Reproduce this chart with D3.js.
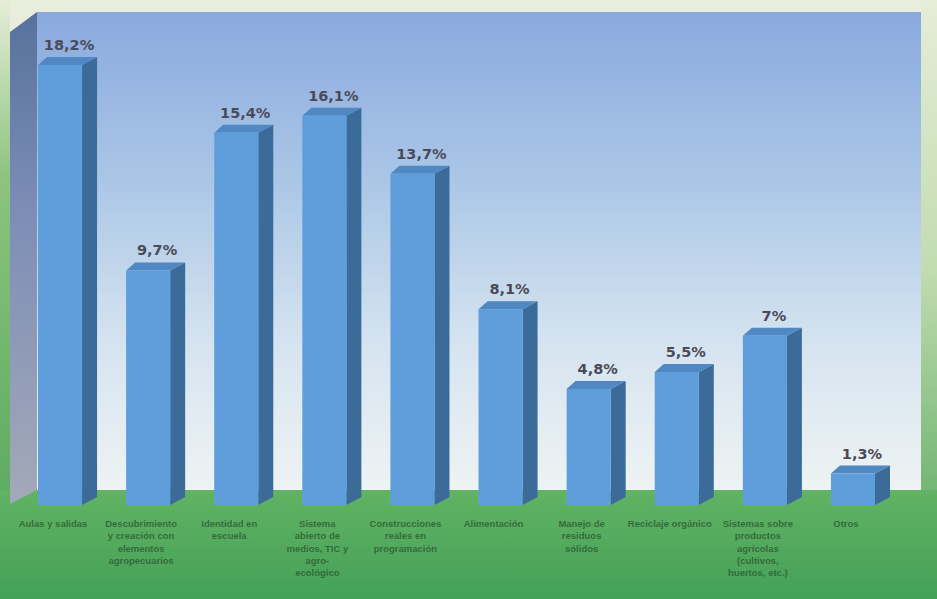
<!DOCTYPE html>
<html>
<head>
<meta charset="utf-8">
<script src="https://cdn.jsdelivr.net/npm/d3@7"></script>
<style>
  html, body { margin: 0; padding: 0; background: #e8eedb; }
  svg { display: block; }
</style>
</head>
<body>
<svg id="chart" width="937" height="599"></svg>
<script>
const categories = [
  "Aulas y salidas",
  "Descubrimiento|y creación con|elementos|agropecuarios",
  "Identidad en|escuela",
  "Sistema|abierto de|medios, TIC y|agro-|ecológico",
  "Construcciones|reales en|programación",
  "Alimentación",
  "Manejo de|residuos|sólidos",
  "Reciclaje orgánico",
  "Sistemas sobre|productos|agrícolas|(cultivos,|huertos, etc.)",
  "Otros"
];
const values = [18.2, 9.7, 15.4, 16.1, 13.7, 8.1, 4.8, 5.5, 7, 1.3];
const valueLabels = ["18,2%", "9,7%", "15,4%", "16,1%", "13,7%", "8,1%", "4,8%", "5,5%", "7%", "1,3%"];

const W = 937, H = 599;
const svg = d3.select("#chart");
const defs = svg.append("defs");

const gWall = defs.append("linearGradient").attr("id", "wall").attr("x1", 0).attr("y1", 0).attr("x2", 0).attr("y2", 1);
gWall.append("stop").attr("offset", "0%").attr("stop-color", "#8aa9de");
gWall.append("stop").attr("offset", "35%").attr("stop-color", "#aac6e6");
gWall.append("stop").attr("offset", "70%").attr("stop-color", "#d6e4f0");
gWall.append("stop").attr("offset", "100%").attr("stop-color", "#eef3f3");

const gSide = defs.append("linearGradient").attr("id", "sidewall").attr("x1", 0).attr("y1", 0).attr("x2", 0).attr("y2", 1);
gSide.append("stop").attr("offset", "0%").attr("stop-color", "#56729c");
gSide.append("stop").attr("offset", "40%").attr("stop-color", "#7c8db6");
gSide.append("stop").attr("offset", "100%").attr("stop-color", "#a3a9b8");

const gFloor = defs.append("linearGradient").attr("id", "floor").attr("x1", 0).attr("y1", 0).attr("x2", 0).attr("y2", 1);
gFloor.append("stop").attr("offset", "0%").attr("stop-color", "#62b363");
gFloor.append("stop").attr("offset", "100%").attr("stop-color", "#44a058");

const gEdgeR = defs.append("linearGradient").attr("id", "edgeR").attr("x1", 0).attr("y1", 0).attr("x2", 0).attr("y2", 1);
gEdgeR.append("stop").attr("offset", "0%").attr("stop-color", "#e6edd8");
gEdgeR.append("stop").attr("offset", "45%").attr("stop-color", "#c2dcb0");
gEdgeR.append("stop").attr("offset", "100%").attr("stop-color", "#4ea457");

const gEdgeL = defs.append("linearGradient").attr("id", "edgeL").attr("x1", 0).attr("y1", 0).attr("x2", 0).attr("y2", 1);
gEdgeL.append("stop").attr("offset", "0%").attr("stop-color", "#e6edd8");
gEdgeL.append("stop").attr("offset", "30%").attr("stop-color", "#8cc37f");
gEdgeL.append("stop").attr("offset", "100%").attr("stop-color", "#4ea457");

svg.append("rect").attr("width", W).attr("height", H).attr("fill", "#e8eedb");
svg.append("rect").attr("x", 0).attr("y", 0).attr("width", 10).attr("height", H).attr("fill", "url(#edgeL)");
svg.append("rect").attr("x", 921).attr("y", 0).attr("width", 16).attr("height", H).attr("fill", "url(#edgeR)");

const wallTop = 12, wallBottom = 490, wallLeft = 37, wallRight = 921;
svg.append("rect").attr("x", wallLeft).attr("y", wallTop).attr("width", wallRight - wallLeft)
  .attr("height", wallBottom - wallTop).attr("fill", "url(#wall)");

svg.append("rect").attr("x", 0).attr("y", wallBottom).attr("width", W).attr("height", H - wallBottom).attr("fill", "url(#floor)");

svg.append("path")
  .attr("d", `M${wallLeft},${wallTop} L${wallLeft},${wallBottom} L10,${wallBottom + 14} L10,${wallTop + 20} Z`)
  .attr("fill", "url(#sidewall)");

const x = d3.scaleBand().domain(categories).range([38, 875]).paddingInner(0.5).paddingOuter(0).align(0);
const y = d3.scaleLinear().domain([0, 20]).range([505, 505 - 20 * 24.18]);

const dx = 15, dy = -8;
const data = categories.map((c, i) => ({ c, v: values[i], lab: valueLabels[i] }));

const bars = svg.append("g").selectAll("g").data(data).join("g");

bars.append("path")
  .attr("d", d => {
    const x1 = x(d.c) + x.bandwidth(), yt = y(d.v), yb = y(0);
    return `M${x1},${yt} L${x1 + dx},${yt + dy} L${x1 + dx},${yb + dy} L${x1},${yb} Z`;
  })
  .attr("fill", "#3b6b99");
bars.append("path")
  .attr("d", d => {
    const x0 = x(d.c), x1 = x0 + x.bandwidth(), yt = y(d.v);
    return `M${x0},${yt} L${x0 + dx * 0.6},${yt + dy} L${x1 + dx},${yt + dy} L${x1},${yt} Z`;
  })
  .attr("fill", "#4f88c2");
bars.append("rect")
  .attr("x", d => x(d.c))
  .attr("y", d => y(d.v))
  .attr("width", x.bandwidth())
  .attr("height", d => y(0) - y(d.v))
  .attr("fill", "#5f9edb");

bars.append("text")
  .attr("x", d => x(d.c) + x.bandwidth() / 2 + 9)
  .attr("y", d => y(d.v) + dy - 7)
  .attr("text-anchor", "middle")
  .attr("font-family", "DejaVu Sans, Verdana, sans-serif")
  .attr("font-weight", "bold")
  .attr("font-size", 14.5)
  .attr("fill", "#4a4a58")
  .text(d => d.lab);

const catG = svg.append("g");
data.forEach(d => {
  const lines = d.c.split("|");
  const cx = x(d.c) + x.bandwidth() / 2 - 7;
  const t = catG.append("text")
    .attr("x", cx)
    .attr("y", 527)
    .attr("text-anchor", "middle")
    .attr("font-family", "Liberation Sans, Arial, sans-serif")
    .attr("font-size", 9.5)
    .attr("font-weight", "bold")
    .attr("fill", "#2e5e33")
    .attr("fill-opacity", 0.85);
  lines.forEach((l, i) => {
    t.append("tspan").attr("x", cx).attr("dy", i === 0 ? 0 : 12.3).text(l);
  });
});
</script>
</body>
</html>
